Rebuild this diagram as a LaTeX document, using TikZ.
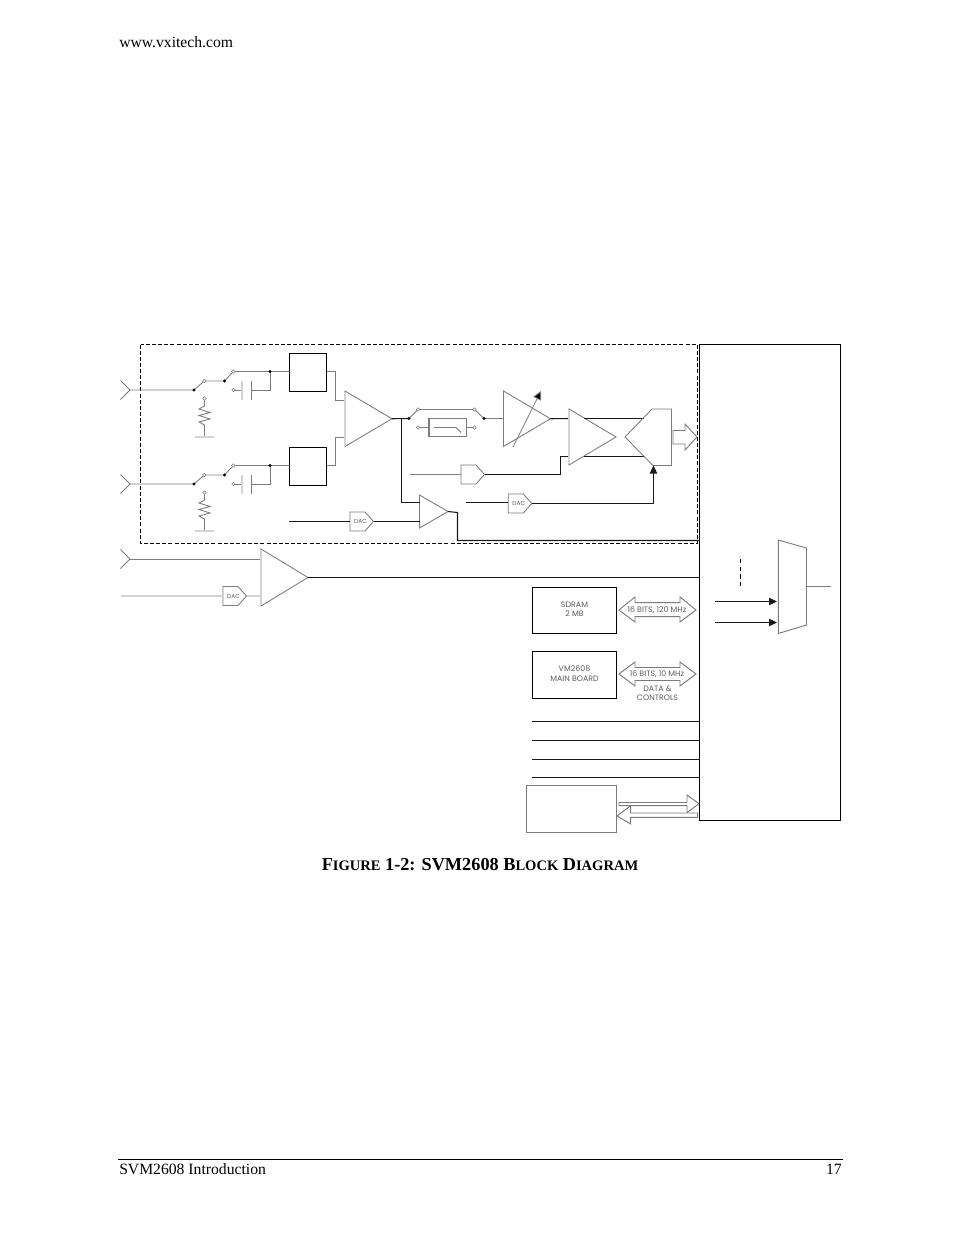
\documentclass[tikz,border=0pt]{standalone}
\usepackage{fontspec}
\setmainfont{Liberation Serif}
\newfontfamily\gothic{Poppins}
\usetikzlibrary{arrows.meta}
\definecolor{wiregray}{HTML}{7C7C7C}
\definecolor{palegray}{HTML}{D4D4D4}
\definecolor{labelgray}{HTML}{5E5E5E}
\tikzset{
  x=0.75pt,y=-0.75pt,
  wire/.style={draw=wiregray,line width=0.65pt},
  pale/.style={draw=palegray,line width=1pt},
  bus/.style={draw=black!90,line width=0.8pt},
  ampl/.style={draw=wiregray,line width=0.65pt,line join=miter},
  fatarrow/.style={draw=wiregray,line width=0.7pt,fill=white},
  term/.style={circle,draw=wiregray,fill=white,line width=0.45pt,inner sep=0pt,minimum size=2.6pt},
  jdot/.style={circle,fill=black,inner sep=0pt,minimum size=2.5pt},
  blockbox/.style={draw=black,line width=0.85pt,inner sep=0pt,outer sep=0pt,anchor=north west,align=center},
  tiny/.style={font=\gothic\fontsize{5.9pt}{7pt}\selectfont,text=labelgray,inner sep=0pt,align=center},
  tip/.style={-{Triangle[length=6pt,width=5.5pt]}},
  pagetext/.style={font=\fontsize{11.75pt}{13pt}\selectfont,inner sep=0pt},
}
% DAC-style pentagon: name, left x, centre y, text
\newcommand{\pent}[4]{%
  \draw[wire,fill=white] (#2,#3-9.5) -- (#2+15,#3-9.5) -- (#2+23.5,#3) -- (#2+15,#3+9.5) -- (#2,#3+9.5) -- cycle;
  \coordinate (#1in) at (#2,#3);
  \coordinate (#1out) at (#2+23.5,#3);
  \node[font=\gothic\fontsize{4.4pt}{5pt}\selectfont,text=labelgray,inner sep=0pt] (#1txt) at (#2+10.5,#3) {#4};}
% amplifier triangle: name, left x, top y, bottom y, tip x
\newcommand{\amp}[5]{%
  \draw[ampl] (#2,#3) -- (#2,#4) -- (#5,#3/2+#4/2) -- cycle;
  \coordinate (#1tip) at (#5,#3/2+#4/2);}
% input chevron: name, y
\newcommand{\chev}[2]{%
  \draw[wire] (120.5,#2-9.5) -- (130,#2) -- (120.5,#2+9.5);
  \coordinate (#1) at (130,#2);}
\begin{document}
\begin{tikzpicture}
\useasboundingbox (0,0) rectangle (954,1235);
\fill[white] (0,0) rectangle (954,1235);

% page furniture
\node[pagetext,anchor=base west] (url) at (119,47.5) {www.vxitech.com};
\node[font=\bfseries\fontsize{13.7pt}{15pt}\selectfont,inner sep=0pt,anchor=base] (caption) at (480,870.5)
  {F{\fontsize{10.9pt}{12pt}\selectfont IGURE} 1-2: SVM2608 B{\fontsize{10.9pt}{12pt}\selectfont LOCK} D{\fontsize{10.9pt}{12pt}\selectfont IAGRAM}};
\coordinate (ruleL) at (118,1159.5); \coordinate (ruleR) at (843,1159.5);
\draw[black,line width=0.55pt] (ruleL) -- (ruleR);
\node[pagetext,anchor=base west] (foot) at (119,1174) {SVM2608 Introduction};
\node[pagetext,anchor=base east] (page) at (842,1174) {17};

% dashed enclosure and main block
\draw[black,line width=0.7pt,dash pattern=on 3pt off 1.6pt] (140.5,344.5) rectangle (697.5,543.5);
\node[blockbox,minimum width=105.75pt,minimum height=357pt] (main) at (699.5,344.5) {};

% the two input channels
\foreach \p/\d in {a/0,b/94}{
  \begin{scope}[yshift={-0.75pt*\d}]
    \chev{in\p}{390}
    \coordinate (sw\p) at (194,390);
    \coordinate (t\p) at (204.3,381);
    \coordinate (m\p) at (224.5,381);
    \coordinate (u\p) at (233.3,371.5);
    \coordinate (j\p) at (270,371.5);
    \coordinate (capt\p) at (233.5,390);
    \coordinate (res\p) at (204.5,398.5);
    \node[blockbox,minimum width=27.75pt,minimum height=28.5pt] (box\p) at (289.5,353.5) {};
    \draw[wire] (in\p) -- (sw\p) -- (t\p);
    \draw[pale] (t\p) -- (m\p);
    \draw[wire] (m\p) -- (u\p) -- (j\p) -- (box\p.west|-j\p);
    \draw[wire] (capt\p) -- (241,390);
    \draw[pale] (242,381) -- (242,400);
    \draw[wire] (251.5,381) -- (251.5,400);
    \draw[wire] (251.5,390) -- (270,390) -- (j\p);
    \draw[wire] (res\p) -- (204.5,406) -- (199,409) -- (210,412.5) -- (199,415.5) -- (210,419) -- (199,422) -- (204.5,425) -- (204.5,437);
    \draw[pale] (195,437) -- (214,437);
    \node[term] at (t\p) {}; \node[term] at (u\p) {}; \node[term] at (capt\p) {}; \node[term] at (res\p) {};
    \node[jdot] at (sw\p) {}; \node[jdot] at (m\p) {}; \node[jdot] at (j\p) {};
  \end{scope}
}

% first amplifier
\amp{ampA}{345}{391}{446.5}{392}
\draw[wire] (boxa.east|-ja) -- (335,371.5) -- (335,400) -- (345,400);
\draw[wire] (boxb.east|-jb) -- (335,465.5) -- (335,437) -- (345,437);
\draw[pale] (345,392) -- (345,446);

% bypass / filter switch
\coordinate (swL) at (409,418.5);
\coordinate (swLt) at (418,409.5);
\coordinate (swRt) at (474.5,409.5);
\coordinate (swR) at (484,418.5);
\coordinate (fL) at (418,427.5);
\coordinate (fR) at (474.5,427.5);
\draw[bus] (ampAtip) -- (swL);
\draw[wire] (swL) -- (swLt) -- (swRt) -- (swR) -- (503.5,418.5);
\draw[wire,line width=0.85pt] (429,418.5) rectangle (466.5,436.5);
\draw[wire] (fL) -- (429,427.5);
\draw[wire] (434,427.5) -- (456,427.5) -- (461,432.5);
\draw[wire] (466.5,427.5) -- (fR);
\node[jdot] at (swL) {}; \node[jdot] at (swR) {};
\node[term] at (swLt) {}; \node[term] at (swRt) {}; \node[term] at (fL) {}; \node[term] at (fR) {};

% variable gain amplifier
\amp{ampB}{503.5}{391}{446.5}{550.5}
\draw[wire,-{Triangle[length=6.5pt,width=6.5pt,fill=black]}] (513,447) -- (541,391);
\draw[bus] (ampBtip) -- (569,418.5);

% third small amplifier and its feed
\amp{ampC}{419.5}{495}{528}{448}
\draw[bus] (401.5,418.5) -- (401.5,502.5) -- (419.5,502.5);
\pent{dacA}{350}{521.5}{DAC}
\coordinate (dacAsrc) at (289,521.5);
\draw[bus] (dacAsrc) -- (dacAin);
\draw[bus] (dacAout) -- (419.5,521.5);
\draw[bus] (ampCtip) -- (457.5,512.5) -- (457.5,540.5) -- (main.west|-0,540.5);

% offset gate
\pent{gate}{461}{474.5}{}
\coordinate (gateSrc) at (410,474.5);
\draw[wire] (gateSrc) -- (gatein);
\draw[bus] (gateout) -- (560.5,474.5) -- (560.5,456.5) -- (569,456.5);

% output driver and ADC-shaped block
\amp{ampD}{569}{409}{465}{616}
\draw[pale] (569,410) -- (569,464);
\draw[bus] (584,418.5) -- (644,418.5);
\draw[bus] (584,456.5) -- (644,456.5);
\draw[ampl] (652,409) -- (671.5,409) -- (671.5,465.5) -- (653,465.5) -- (625,437) -- cycle;
\draw[fatarrow] (673,430.5) -- (685,430.5) -- (685,424) -- (697,437) -- (685,450) -- (685,444) -- (673,444) -- cycle;
\pent{dacB}{508.3}{503.5}{DAC}
\coordinate (dacBsrc) at (466,502.5);
\coordinate (adcCtl) at (653.5,465.5);
\draw[bus] (dacBsrc) -- (dacBin|-dacBsrc);
\draw[bus,tip] (dacBout) -- (653.5,503.5) -- (adcCtl);

% third input
\chev{inc}{559}
\amp{ampE}{261}{549}{606}{308}
\draw[wire] (inc) -- (261,559);
\pent{dacC}{223}{596}{DAC}
\coordinate (dacCsrc) at (121,596);
\draw[pale] (dacCsrc) -- (dacCin);
\draw[pale] (dacCout) -- (261,596);
\draw[pale] (261,550) -- (261,605);
\draw[bus] (ampEtip) -- (main.west|-ampEtip);

% memory and main board
\node[blockbox,minimum width=63pt,minimum height=34.5pt] (sdram) at (532.5,587.5) {};
\node[tiny] (sdramt) at (574.5,609.5) {SDRAM\\2 MB};
\node[blockbox,minimum width=63pt,minimum height=35.25pt] (vm) at (532.5,651.5) {};
\node[tiny] (vmt) at (574.5,673.5) {VM2608\\MAIN BOARD};
\draw[fatarrow] (619,610) -- (635,597) -- (635,602.7) -- (680,602.7) -- (680,597) -- (696,610) -- (680,622) -- (680,616.7) -- (635,616.7) -- (635,622) -- cycle;
\node[tiny] (b1) at (657,609.7) {16 BITS, 120 MHz};
\draw[fatarrow] (619,674) -- (635,662) -- (635,667.5) -- (680,667.5) -- (680,662) -- (696,674) -- (680,686) -- (680,680.5) -- (635,680.5) -- (635,686) -- cycle;
\node[tiny] (b2) at (657,674) {16 BITS, 10 MHz};
\node[tiny] (b3) at (657.5,693.5) {DATA \&\\CONTROLS};

% four plain lines
\foreach \y in {721.5,740.5,759.5,777.5}{
  \coordinate (ln) at (532,\y);
  \draw[bus] (ln) -- (main.west|-ln);
}

% lower-left grey box and its two fat arrows
\draw[draw=wiregray,line width=0.65pt] (526.5,785) rectangle (616,832);
\draw[fatarrow] (619,802.5) -- (687,802.5) -- (687,795) -- (699,803.7) -- (687,812.5) -- (687,805.7) -- (619,805.7) -- cycle;
\draw[fatarrow] (697.7,813) -- (630.7,813) -- (630.7,805.7) -- (617,816) -- (630.7,824) -- (630.7,817.3) -- (697.7,817.3) -- cycle;

% multiplexer in the main block
\draw[draw=wiregray,line width=0.7pt] (778.3,540) -- (806.5,548) -- (806.5,625) -- (778.3,633.5) -- cycle;
\draw[wire] (806.5,586.5) -- (831,586.5);
\draw[black,line width=0.7pt,dash pattern=on 3.2pt off 2.6pt] (740.5,559) -- (740.5,587);
\coordinate (m1) at (715,601.5); \coordinate (m2) at (715,622.5);
\draw[bus,tip] (m1) -- (777,601.5);
\draw[bus,tip] (m2) -- (777,622.5);
\end{tikzpicture}
\end{document}
